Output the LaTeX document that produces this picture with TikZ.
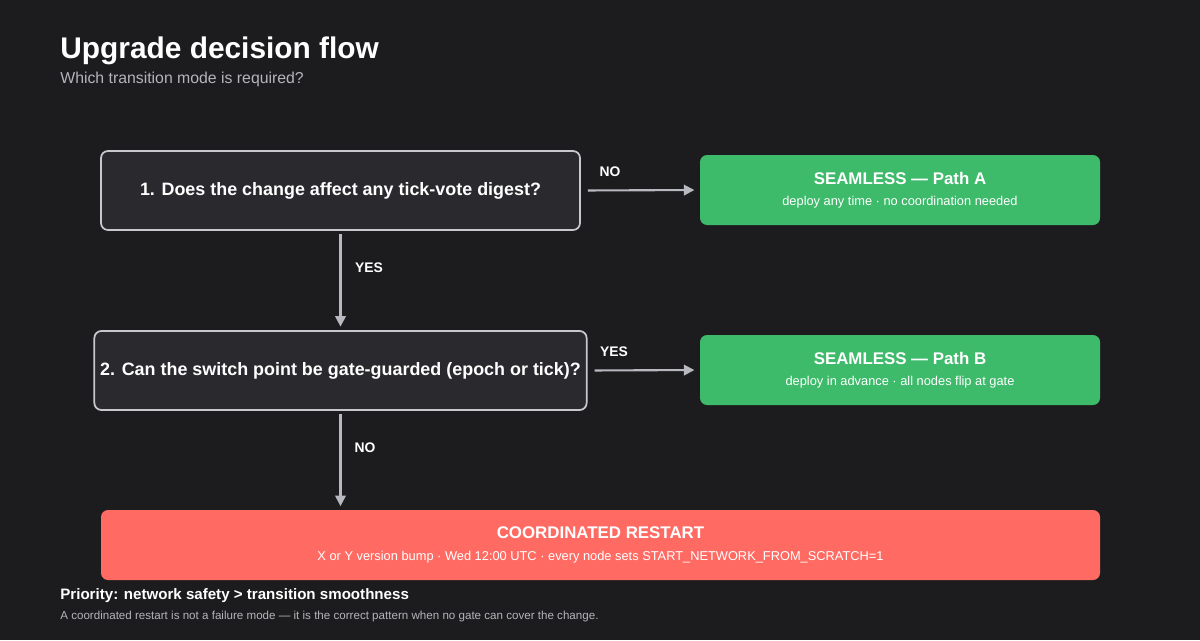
\documentclass[tikz,border=0pt]{standalone}
\usepackage{fontspec}
\setmainfont{Liberation Sans}
\usetikzlibrary{positioning,arrows.meta}
\definecolor{bgdark}{HTML}{1C1C1E}
\definecolor{qfill}{HTML}{2A2A2E}
\definecolor{qline}{HTML}{C8C8CC}
\definecolor{okgreen}{HTML}{3DBA6A}
\definecolor{stopred}{HTML}{FF6B63}
\definecolor{arrowgray}{HTML}{B8B8C0}
\definecolor{subgray}{HTML}{B4B4BA}
\tikzset{
  question/.style={draw=qline, line width=1pt, fill=qfill, rounded corners=4pt,
    minimum width=479*0.02cm, minimum height=79*0.02cm, text=white,
    font=\fontsize{10.2pt}{12pt}\selectfont\bfseries},
  outcome/.style={rounded corners=4pt, minimum width=400*0.02cm,
    minimum height=70*0.02cm, text=white},
  flow/.style={draw=arrowgray, line width=1.2pt, -{Triangle[length=6pt,width=6pt]}},
  answer/.style={text=white, font=\fontsize{7.9pt}{9pt}\selectfont\bfseries},
  headline/.style={font=\fontsize{9.6pt}{11pt}\selectfont\bfseries},
  detail/.style={font=\fontsize{7.3pt}{9pt}\selectfont}
}
\begin{document}
\begin{tikzpicture}[x=0.02cm,y=-0.02cm]
\fill[bgdark] (0,0) rectangle (1200,640);
\useasboundingbox (0,0) rectangle (1200,640);

% title
\node[anchor=base west, text=white, inner sep=0, font=\fontsize{17pt}{20pt}\selectfont\bfseries] (title) at (60,58) {Upgrade decision flow};
\node[anchor=base west, text=subgray, inner sep=0, font=\fontsize{9pt}{11pt}\selectfont] (subtitle) at (60,83) {Which transition mode is required?};

% questions
\node[question] (q1) at (340.5,190.5) {1. Does the change affect any tick-vote digest?};
\node[question] (q2) at (340.5,370.5) {2. Can the switch point be gate-guarded (epoch or tick)?};

% outcomes
\node[outcome, fill=okgreen] (pathA) at (900,190) {};
\node[headline, text=white] (pathAt) at (900,178) {SEAMLESS — Path A};
\node[detail, text=white] (pathAd) at (900,202) {deploy any time · no coordination needed};

\node[outcome, fill=okgreen] (pathB) at (900,370) {};
\node[headline, text=white] (pathBt) at (900,358) {SEAMLESS — Path B};
\node[detail, text=white] (pathBd) at (900,382) {deploy in advance · all nodes flip at gate};

\node[outcome, fill=stopred, minimum width=999*0.02cm] (restart) at (600.5,545) {};
\node[headline, text=white] (restartt) at (600.5,533) {COORDINATED RESTART};
\node[detail, text=white] (restartd) at (600.5,557) {X or Y version bump · Wed 12:00 UTC · every node sets START\_NETWORK\_FROM\_SCRATCH=1};

% connectors
\draw[flow, shorten <=4pt, shorten >=3pt] (q1.east) -- (pathA.west);
\node[answer] (noA) at (610,172) {NO};
\draw[flow, shorten <=2pt, shorten >=2pt] (q1.south) -- (q2.north);
\node[answer] (yes1) at (369,268) {YES};
\draw[flow, shorten <=4pt, shorten >=3pt] (q2.east) -- (pathB.west);
\node[answer] (yesB) at (614,352) {YES};
\draw[flow, shorten <=2pt, shorten >=2pt] (q2.south) -- (q2.south |- restart.north);
\node[answer] (no2) at (365,448) {NO};

% footer
\node[anchor=base west, text=white, inner sep=0, font=\fontsize{8.6pt}{10pt}\selectfont\bfseries] (priority) at (60,599) {Priority: network safety > transition smoothness};
\node[anchor=base west, text=subgray, inner sep=0, font=\fontsize{6.6pt}{8pt}\selectfont] (note) at (60,619) {A coordinated restart is not a failure mode — it is the correct pattern when no gate can cover the change.};
\end{tikzpicture}
\end{document}
